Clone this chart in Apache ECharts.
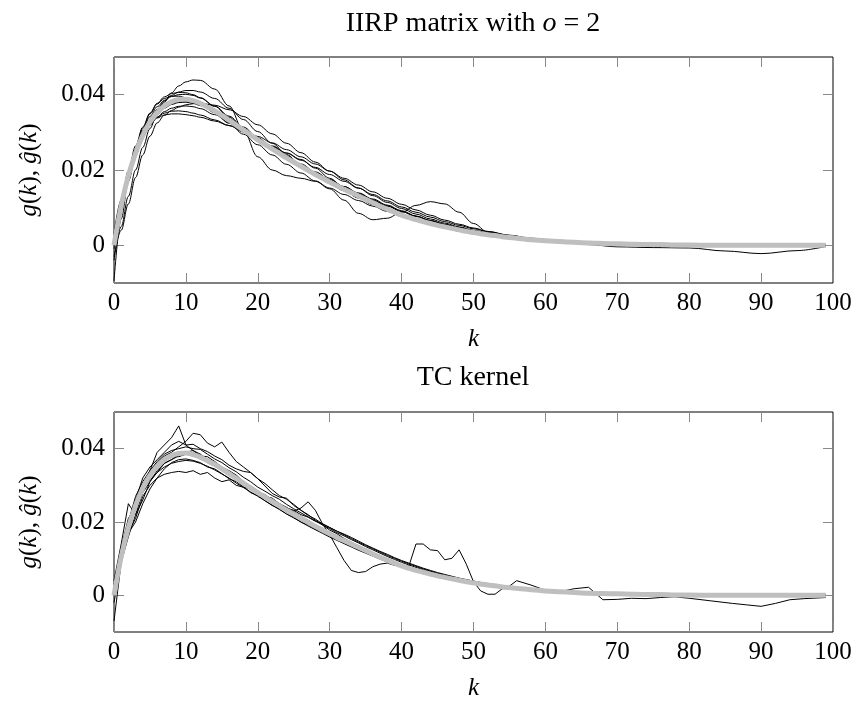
<!DOCTYPE html>
<html>
<head>
<meta charset="utf-8">
<script src="https://cdn.jsdelivr.net/npm/echarts@6.0.0/dist/echarts.min.js"></script>
<style>
  html, body { margin: 0; padding: 0; background: #fff; }
  #main { width: 857px; height: 702px; }
</style>
</head>
<body>
<div id="main"></div>
<script>
// lag index k for the IIRP plot (smooth estimates, sampled coarser)
var kTop = [0,1,2,3,4,5,6,7,8,9,10,11,12,14,16,18,20,22,24,26,28,30,32,34,36,38,40,42,44,46,48,50,52,55,58,62,66,70,75,80,85,90,95,99];

// IIRP estimates (top)
var iirp1 = [-.004,.005,.013,.020,.026,.031,.035,.038,.0405,.0423,.0434,.0439,.0438,
  .0415,.0370,.0305,.0235,.0200,.0185,.0178,.0170,.0150,.0120,.0085,.0068,.0072,.0088,.0106,.0116,.0110,.0088,.0058,.0035,
  .0020,.0013,.0008,.0002,-.0004,-.0006,-.0007,-.0015,-.0022,-.0014,-.0003];
var iirp2 = [.001,.011,.019,.025,.0295,.0322,.0338,.0346,.0349,.0349,.0347,.0344,.0340,
  .0330,.0318,.0304,.0289,.0272,.0254,.0235,.0216,.0197,.0178,.0160,.0142,.0125,.0109,.0094,.0080,.0067,.0056,.0046,.0037,
  .0027,.0019,.0012,.0007,.0004,.0002,.0001,0,0,0,0];
var iirp3 = [0,.0095,.0175,.0240,.0288,.0320,.0340,.0351,.0356,.0357,.0355,.0351,.0346,
  .0333,.0318,.0301,.0283,.0264,.0245,.0226,.0207,.0188,.0170,.0152,.0135,.0118,.0102,.0088,.0075,.0063,.0053,.0044,.0036,
  .0026,.0018,.0011,.0006,.0003,.0001,0,0,0,0,0];
var iirp4 = [-.0095,.0070,.0170,.0238,.0287,.0322,.0347,.0364,.0374,.0379,.0380,.0377,.0371,
  .0354,.0332,.0308,.0283,.0258,.0234,.0210,.0187,.0165,.0145,.0126,.0108,.0092,.0078,.0066,.0055,.0046,.0038,.0031,.0025,
  .0018,.0013,.0008,.0005,.0003,.0001,0,0,0,0,0];
var iirp5 = [.002,.0100,.0175,.0238,.0290,.0330,.0361,.0383,.0398,.0407,.0411,.0411,.0407,
  .0390,.0364,.0334,.0302,.0271,.0241,.0213,.0188,.0165,.0145,.0126,.0109,.0094,.0080,.0068,.0058,.0049,.0041,.0034,.0028,
  .0021,.0015,.0010,.0006,.0003,.0001,0,0,0,0,0];
var iirp6 = [-.003,.004,.011,.018,.024,.029,.0325,.0345,.0358,.0367,.0373,.0376,.0377,
  .0372,.0360,.0342,.0320,.0296,.0271,.0246,.0221,.0197,.0174,.0152,.0132,.0114,.0098,.0083,.0070,.0059,.0049,.0040,.0033,
  .0024,.0017,.0011,.0006,.0003,.0001,0,0,0,0,0];
var iirp7 = [.001,.0108,.0190,.0255,.0305,.0342,.0368,.0385,.0395,.0400,.0401,.0398,.0391,
  .0369,.0340,.0310,.0283,.0262,.0245,.0228,.0205,.0178,.0152,.0129,.0110,.0094,.0080,.0068,.0058,.0049,.0041,.0034,.0028,
  .0020,.0014,.0009,.0005,.0002,0,0,0,0,0,0];
var iirp8 = [.003,.0120,.0195,.0252,.0295,.0327,.0350,.0366,.0376,.0381,.0382,.0379,.0373,
  .0355,.0332,.0308,.0284,.0261,.0238,.0216,.0195,.0175,.0156,.0138,.0121,.0105,.0090,.0077,.0065,.0055,.0046,.0038,.0031,
  .0023,.0016,.0010,.0006,.0003,.0001,0,0,0,0,0];
var iirp9 = [-.001,.0100,.0188,.0257,.0310,.0349,.0375,.0390,.0396,.0396,.0392,.0385,.0376,
  .0352,.0324,.0295,.0267,.0240,.0215,.0192,.0171,.0152,.0135,.0119,.0104,.0090,.0077,.0065,.0055,.0046,.0038,.0031,.0025,
  .0018,.0012,.0007,.0004,.0002,0,0,0,0,0,0];
var iirp10 = [0,.0112,.0198,.0264,.0314,.0351,.0377,.0394,.0403,.0406,.0405,.0400,.0392,
  .0370,.0343,.0314,.0286,.0259,.0235,.0213,.0193,.0174,.0156,.0139,.0123,.0107,.0092,.0078,.0066,.0055,.0046,.0038,.0031,
  .0022,.0015,.0009,.0005,.0002,.0001,0,0,0,0,0];
var iirp11 = [.002,.0110,.0185,.0243,.0287,.0318,.0340,.0355,.0364,.0369,.0370,.0368,.0363,
  .0347,.0326,.0303,.0279,.0255,.0232,.0210,.0189,.0170,.0152,.0135,.0119,.0104,.0090,.0077,.0066,.0056,.0047,.0039,.0032,
  .0023,.0016,.0010,.0006,.0003,.0001,0,0,0,0,0];

// lag index k for the TC plot and the true response
var kTC = [0,1,2,3,4,5,6,7,8,9,10,11,12,13,14,15,16,17,18,19,20,21,22,23,24,25,26,27,28,29,
  30,31,32,33,34,35,36,37,38,39,40,41,42,43,44,45,46,47,48,49,50,51,52,53,54,55,56,
  58,60,62,64,66,68,70,72,74,76,78,80,83,86,88,90,92,94,96,99];

// true impulse response g(k)
var gTrue = [0,.0105,.0185,.0245,.0292,.0327,.0352,.0370,.0381,.0387,
  .0388,.0384,.0377,.0367,.0357,.0345,.0332,.0319,.0306,.0293,
  .0280,.0268,.0256,.0244,.0232,.0221,.0210,.0199,.0188,.0178,
  .0168,.0158,.0149,.0140,.0131,.0122,.0113,.0104,.0096,.0088,
  .0080,.0074,.0068,.0063,.0058,.0053,.0049,.0045,.0041,.0037,
  .0034,.0031,.0028,.0026,.0023,.0021,.0019,
  .0015,.0012,.0010,.0008,.0006,.0005,.0004,.0003,.0002,.0002,.0001,.0001,0,0,0,0,0,0,0,0];

// TC kernel estimates (bottom)
var tc1 = [.002,.012,.019,.026,.030,.034,.039,.041,.043,.0462,
  .041,.0395,.0385,.037,.0362,.0345,.0338,.032,.0305,.0298,
  .0285,.027,.0262,.0245,.0238,.0222,.0215,.0198,.0192,.018,
  .0172,.016,.0153,.0142,.0135,.0125,.0115,.0107,.0098,.009,
  .0082,.0077,.007,.0064,.0059,.0054,.005,.0046,.0042,.0038,
  .0035,.0032,.0029,.0026,.0024,.0022,.002,
  .0016,.0013,.001,.0008,.0006,.0005,.0004,.0003,.0002,.0002,.0001,.0001,0,0,0,0,0,0,0,0];
var tc2 = [-.007,.009,.016,.022,.028,.031,.0335,.036,.037,.038,
  .0385,.039,.0375,.0372,.0355,.035,.0335,.0325,.031,.0295,
  .0285,.027,.0265,.025,.024,.0228,.0215,.0205,.0192,.0183,
  .0172,.0162,.0152,.0143,.0133,.0125,.0115,.0106,.0097,.0088,
  .0082,.0079,.0140,.0140,.0124,.0122,.0097,.0101,.0124,.0085,
  .0037,.0012,.0003,.0003,.0018,.0025,.0040,
  .0028,.0014,.0010,.0018,.0022,-.0012,-.0011,-.0008,-.0009,-.0006,-.0004,-.0008,-.0015,-.0022,-.0026,-.0030,-.0022,-.0012,-.0009,-.0006];
var tc3 = [.001,.010,.017,.021,.027,.030,.032,.033,.0335,.0338,
  .0335,.034,.033,.0335,.032,.031,.0315,.030,.0295,.029,
  .0275,.0268,.0258,.025,.0238,.0232,.022,.0213,.0202,.0195,
  .0185,.0175,.0167,.0158,.0148,.0138,.0129,.012,.0112,.0103,
  .0095,.0088,.0081,.0074,.0068,.0062,.0057,.0052,.0047,.0043,
  .0039,.0035,.0032,.0029,.0026,.0023,.0021,
  .0017,.0014,.0011,.0009,.0007,.0005,.0004,.0003,.0002,.0002,.0001,.0001,0,0,0,0,0,0,0,0];
var tc4 = [.003,.013,.021,.024,.029,.034,.036,.038,.039,.0405,
  .042,.0442,.0438,.0415,.0405,.0418,.039,.0365,.0350,.0335,
  .0318,.0305,.0288,.0272,.0262,.0248,.0232,.0220,.0205,.0192,
  .0178,.0168,.0155,.0145,.0135,.0125,.0116,.0107,.0098,.009,
  .0083,.0077,.0071,.0065,.006,.0055,.005,.0046,.0042,.0038,
  .0035,.0032,.0029,.0026,.0024,.0022,.002,
  .0016,.0013,.001,.0008,.0007,.0005,.0004,.0003,.0002,.0002,.0001,.0001,0,0,0,0,0,0,0,0];
var tc5 = [.004,.014,.025,.022,.026,.031,.034,.036,.037,.0385,
  .039,.0395,.038,.0378,.0365,.035,.034,.0328,.031,.0295,
  .028,.0275,.026,.0245,.0235,.023,.0238,.0255,.0232,.0195,
  .0165,.013,.0095,.0068,.0062,.0065,.0078,.0085,.0088,.0082,
  .0078,.0072,.0066,.0061,.0056,.0051,.0047,.0043,.0039,.0035,
  .0032,.0029,.0026,.0024,.0022,.002,.0018,
  .0015,.0012,.001,.0008,.0006,.0005,.0004,.0003,.0002,.0002,.0001,.0001,0,0,0,0,0,0,0,0];
var tc6 = [0,.011,.020,.027,.031,.034,.0365,.0385,.0395,.040,
  .0405,.040,.0398,.0385,.0372,.0362,.0348,.0337,.0322,.031,
  .0295,.0284,.0272,.0262,.0248,.0236,.0225,.0214,.0203,.0192,
  .0182,.0171,.0162,.0152,.0143,.0133,.0124,.0115,.0106,.0098,
  .009,.0083,.0076,.007,.0064,.0059,.0054,.0049,.0045,.0041,
  .0037,.0034,.0031,.0028,.0025,.0023,.0021,
  .0017,.0014,.0011,.0009,.0007,.0006,.0005,.0004,.0003,.0002,.0002,.0001,.0001,0,0,0,0,0,0,0];
var tc7 = [.002,.010,.017,.020,.025,.029,.032,.0345,.0362,.0370,
  .0372,.0368,.0362,.0350,.0345,.0332,.0318,.0310,.0296,.0280,
  .0272,.0258,.0245,.0236,.0222,.0213,.0200,.0192,.0180,.0172,
  .0160,.0153,.0142,.0134,.0124,.0117,.0108,.0100,.0092,.0085,
  .0078,.0072,.0066,.0061,.0056,.0052,.0047,.0043,.0040,.0036,
  .0033,.0030,.0027,.0025,.0022,.0020,.0018,
  .0015,.0012,.0010,.0008,.0006,.0005,.0004,.0003,.0002,.0002,.0001,.0001,0,0,0,0,0,0,0,0];
var tc8 = [.001,.012,.020,.026,.032,.035,.037,.039,.041,.042,
  .0410,.0412,.0400,.0392,.0380,.0370,.0355,.0345,.0338,.0335,
  .0318,.0298,.0278,.0268,.0265,.0245,.0232,.0218,.0208,.0195,
  .0185,.0175,.0165,.0155,.0145,.0136,.0127,.0118,.0109,.0101,
  .0093,.0086,.0079,.0072,.0066,.0060,.0055,.0050,.0046,.0042,
  .0038,.0035,.0032,.0029,.0026,.0024,.0022,
  .0018,.0015,.0012,.0010,.0008,.0006,.0005,.0004,.0003,.0002,.0002,.0001,.0001,0,0,0,0,0,0,0];
var tc9 = [-.002,.009,.018,.024,.030,.033,.035,.0365,.038,.0378,
  .0385,.0380,.0385,.0362,.0358,.0340,.0330,.0322,.0300,.0295,
  .0275,.0272,.0250,.0248,.0228,.0222,.0205,.0202,.0185,.0180,
  .0165,.0160,.0146,.0141,.0128,.0123,.0111,.0105,.0094,.0089,
  .0079,.0075,.0067,.0064,.0057,.0054,.0048,.0046,.0040,.0038,
  .0033,.0032,.0027,.0026,.0022,.0021,.0018,
  .0015,.0012,.0010,.0008,.0006,.0005,.0004,.0003,.0002,.0002,.0001,.0001,0,0,0,0,0,0,0,0];
var tc10 = [.001,.011,.019,.025,.029,.0315,.0335,.0350,.0360,.0365,
  .0368,.0366,.0360,.0352,.0342,.0331,.0320,.0306,.0294,.0282,
  .0270,.0258,.0246,.0234,.0222,.0211,.0200,.0189,.0179,.0169,
  .0159,.0150,.0141,.0132,.0123,.0115,.0107,.0099,.0091,.0084,
  .0077,.0071,.0066,.0061,.0056,.0051,.0047,.0043,.0039,.0036,
  .0033,.0030,.0027,.0025,.0022,.0020,.0018,
  .0015,.0012,.0010,.0008,.0006,.0005,.0004,.0003,.0002,.0002,.0001,.0001,0,0,0,0,0,0,0,0];

var yTicks = [0, 0.02, 0.04];

var iirpLines = [iirp1, iirp2, iirp3, iirp4, iirp5, iirp6, iirp7, iirp8, iirp9, iirp10, iirp11];
var tcLines = [tc1, tc2, tc3, tc4, tc5, tc6, tc7, tc8, tc9, tc10];

var FONT = 'Liberation Serif';
var FS = 25;
var TFS = 28; // titles

function pairs(ks, vs) {
  return ks.map(function (k, i) { return [k, vs[i]]; });
}

function xAxes(gridIndex) {
  var tick = { show: true, inside: true, length: 10, lineStyle: { color: '#888', width: 1 } };
  return [{
    type: 'value', gridIndex: gridIndex, position: 'bottom', min: 0, max: 100, interval: 10,
    axisLine: { show: false, onZero: false }, axisTick: tick, splitLine: { show: false },
    axisLabel: { margin: 8, fontFamily: FONT, fontSize: FS, color: '#000' },
    name: '{i|k}', nameLocation: 'middle', nameGap: 44,
    nameTextStyle: { fontFamily: FONT, fontSize: FS, color: '#000',
      rich: { i: { fontFamily: FONT, fontSize: FS, fontStyle: 'italic', color: '#000' } } }
  }, {
    type: 'value', gridIndex: gridIndex, position: 'top', min: 0, max: 100, interval: 10,
    axisLine: { show: false, onZero: false }, axisTick: tick, splitLine: { show: false }, axisLabel: { show: false }
  }];
}

function yAxes(gridIndex) {
  var tick = { show: true, inside: true, length: 10, customValues: yTicks, lineStyle: { color: '#888', width: 1 } };
  var it = { fontFamily: FONT, fontSize: FS, fontStyle: 'italic', color: '#000' };
  return [{
    type: 'value', gridIndex: gridIndex, position: 'left', min: -0.01, max: 0.05,
    axisLine: { show: false, onZero: false }, axisTick: tick, splitLine: { show: false },
    axisLabel: { margin: 9, customValues: yTicks, fontFamily: FONT, fontSize: FS, color: '#000',
      formatter: function (v) { return v === 0 ? '0' : v.toFixed(2); } },
    name: '{i|g}({i|k}), {i|ĝ}({i|k})', nameLocation: 'middle', nameGap: 72,
    nameTextStyle: { fontFamily: FONT, fontSize: FS, color: '#000', rich: { i: it } }
  }, {
    type: 'value', gridIndex: gridIndex, position: 'right', min: -0.01, max: 0.05,
    axisLine: { show: false, onZero: false }, axisTick: tick, splitLine: { show: false }, axisLabel: { show: false }
  }];
}

var series = [];
iirpLines.forEach(function (vs) {
  series.push({ type: 'line', xAxisIndex: 0, yAxisIndex: 0, data: pairs(kTop, vs),
    showSymbol: false, symbol: 'none', smooth: 0.35, smoothMonotone: 'x', silent: true,
    lineStyle: { color: '#000', width: 1 } });
});
series.push({ type: 'line', xAxisIndex: 0, yAxisIndex: 0, data: pairs(kTC, gTrue),
  showSymbol: false, symbol: 'none', smooth: 0.3, silent: true,
  lineStyle: { color: '#bfbfbf', width: 5, cap: 'butt' } });
tcLines.forEach(function (vs) {
  series.push({ type: 'line', xAxisIndex: 2, yAxisIndex: 2, data: pairs(kTC, vs),
    showSymbol: false, symbol: 'none', silent: true,
    lineStyle: { color: '#000', width: 1 } });
});
series.push({ type: 'line', xAxisIndex: 2, yAxisIndex: 2, data: pairs(kTC, gTrue),
  showSymbol: false, symbol: 'none', smooth: 0.3, silent: true,
  lineStyle: { color: '#bfbfbf', width: 5, cap: 'butt' } });

var titleRich = {
  n: { fontFamily: FONT, fontSize: TFS, color: '#000' },
  i: { fontFamily: FONT, fontSize: TFS, fontStyle: 'italic', color: '#000' }
};

var chart = echarts.init(document.getElementById('main'), null, { renderer: 'canvas' });
chart.setOption({
  animation: false,
  backgroundColor: '#fff',
  grid: [
    { left: 114, top: 57, width: 719, height: 226, show: true, borderColor: '#000', borderWidth: 1 },
    { left: 114, top: 412, width: 719, height: 226, show: true, borderColor: '#000', borderWidth: 1 }
  ],
  xAxis: xAxes(0).concat(xAxes(1)),
  yAxis: yAxes(0).concat(yAxes(1)),
  graphic: [
    { type: 'text', x: 473, y: 24, style: { text: '{n|IIRP matrix with }{i|o}{n| = 2}', rich: titleRich,
      align: 'center', verticalAlign: 'middle' } },
    { type: 'text', x: 473, y: 378, style: { text: '{n|TC kernel}', rich: titleRich,
      align: 'center', verticalAlign: 'middle' } }
  ],
  series: series
});
</script>
</body>
</html>
